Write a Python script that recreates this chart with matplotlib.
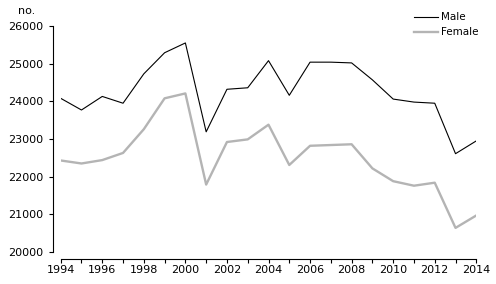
import matplotlib
matplotlib.use("Agg")
import matplotlib.pyplot as plt

years = list(range(1994, 2015))
male = [24080, 23770, 24130, 23950, 24730, 25290, 25550, 23190, 24320, 24360,
        25080, 24160, 25040, 25040, 25020, 24570, 24060, 23980, 23950, 22610, 22950]
female = [22430, 22350, 22440, 22630, 23260, 24080, 24210, 21790, 22920, 22990,
          23380, 22310, 22820, 22840, 22860, 22220, 21880, 21760, 21840, 20640, 20970]
yticks = [20000, 21000, 22000, 23000, 24000, 25000, 26000]

W, H = 496, 284
fig = plt.figure(figsize=(W / 100, H / 100), dpi=100)
ax = fig.add_axes([60.7 / W, (H - 252) / H, (476.3 - 60.7) / W, (252 - 26) / H])

ax.plot(years, male, color="black", lw=0.8, label="Male")
ax.plot(years, female, color="#b4b4b4", lw=1.7, label="Female")

ax.set_xlim(1994, 2014)
ax.set_ylim(20000, 26000)
ax.set_yticks(yticks)
ax.set_yticklabels([str(v) for v in yticks])
ax.set_xticks(years)
ax.set_xticklabels([str(y) if y % 2 == 0 else "" for y in years])

for s in ["top", "right"]:
    ax.spines[s].set_visible(False)
ax.spines["left"].set_position(("outward", 5.4))
ax.spines["bottom"].set_position(("outward", 5.0))
ax.spines["left"].set_bounds(20000, 26000)
ax.spines["bottom"].set_bounds(1994, 2014)
for s in ["left", "bottom"]:
    ax.spines[s].set_linewidth(0.8)

ax.tick_params(axis="y", length=2.7, width=0.8, pad=4.3, labelsize=8)
ax.tick_params(axis="x", length=2.9, width=0.8, pad=1.8, labelsize=8)

fig.text(27 / W, 1 - 11.5 / H, "no.", fontsize=8, ha="center", va="center")

leg = ax.legend(loc="upper left", bbox_to_anchor=(414 / W, 1 - 12.5 / H),
                bbox_transform=fig.transFigure, frameon=False, fontsize=7.5,
                handlelength=2.3, handletextpad=0.25, borderpad=0,
                borderaxespad=0, labelspacing=0.45)

fig.savefig("out.png", dpi=100)
